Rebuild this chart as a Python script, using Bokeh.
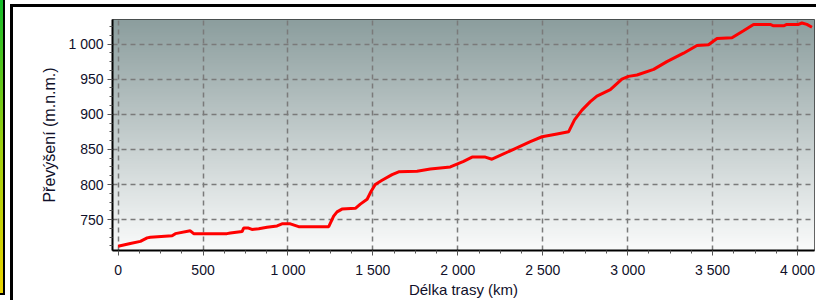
import numpy as np
from bokeh.plotting import figure
from bokeh.models import FixedTicker, Range1d
from bokeh.embed import file_html
from bokeh.resources import INLINE

# ---- data ----
distance_km = [0, 72, 131, 171, 190, 318, 337, 425, 445, 641, 661, 730, 739, 768, 788, 828,
               877, 936, 965, 1014, 1063, 1240, 1269, 1289, 1318, 1397, 1426, 1466, 1489,
               1514, 1554, 1613, 1652, 1760, 1838, 1956, 2034, 2084, 2162, 2201, 2309, 2427,
               2496, 2584, 2652, 2687, 2731, 2780, 2819, 2898, 2966, 3005, 3055, 3153, 3231,
               3329, 3408, 3476, 3526, 3614, 3682, 3741, 3839, 3859, 3918, 3937, 4006, 4026,
               4055, 4085]
elevation_m = [712, 716, 719, 724, 725, 727, 730, 734, 730, 730, 731, 733, 738, 738, 736, 737,
               739, 741, 744, 744, 740, 740, 755, 761, 765, 766, 772, 779, 790,
               800, 806, 814, 818, 819, 822, 825, 833, 839, 839, 836, 848, 861,
               868, 872, 875, 892, 906, 918, 926, 935, 950, 954, 956, 964, 975,
               987, 998, 999, 1008, 1009, 1019, 1028, 1028, 1026, 1026, 1028, 1028, 1030,
               1028, 1024]

x_ticks = [0, 500, 1000, 1500, 2000, 2500, 3000, 3500, 4000]
x_tick_labels = ["0", "500", "1 000", "1 500", "2 000", "2 500", "3 000", "3 500", "4 000"]
y_ticks = [750, 800, 850, 900, 950, 1000]
y_tick_labels = ["750", "800", "850", "900", "950", "1 000"]

x_title = "Délka trasy (km)"
y_title = "Převýšení (m.n.m.)"

x_start, x_end = -33, 4100
y_start, y_end = 706, 1035

p = figure(width=816, height=300, output_backend="svg", toolbar_location=None,
           x_range=Range1d(x_start, x_end), y_range=Range1d(y_start, y_end),
           min_border_left=112, min_border_right=2, min_border_top=19, min_border_bottom=49)
p.background_fill_color = "white"
p.border_fill_color = None
p.outline_line_color = "#333333"
p.outline_line_width = 1

# window frame decorations drawn behind the (transparent) canvas border
layers = [
    ("linear-gradient(#000,#000)", "10px 4px", "806px 3px"),
    ("linear-gradient(#000,#000)", "10px 4px", "3px 296px"),
    ("linear-gradient(#000,#000)", "3px 0px", "2px 295px"),
    ("linear-gradient(#000,#000)", "0px 293px", "5px 2px"),
    ("linear-gradient(to bottom,#14bb2a,#9fd010 50%,#ecd400)", "0px 0px", "3px 293px"),
]
p.styles = {
    "background-color": "white",
    "background-image": ",".join(l[0] for l in layers),
    "background-position": ",".join(l[1] for l in layers),
    "background-size": ",".join(l[2] for l in layers),
    "background-repeat": "no-repeat",
}

# gradient background of the plot area
n = 200
t = np.linspace(0, 1, n)[:, None]  # 0 = bottom, 1 = top
top_c = np.array([140, 158, 158])
bot_c = np.array([250, 251, 251])
cols = (bot_c + (top_c - bot_c) * t).astype(np.uint32)
img = np.zeros((n, 1), dtype=np.uint32)
view = img.view(dtype=np.uint8).reshape((n, 1, 4))
view[:, 0, 0] = cols[:, 0]
view[:, 0, 1] = cols[:, 1]
view[:, 0, 2] = cols[:, 2]
view[:, 0, 3] = 255
p.image_rgba(image=[img], x=x_start, y=y_start, dw=x_end - x_start, dh=y_end - y_start, level="image")

# grid
for g in (p.xgrid, p.ygrid):
    g.grid_line_color = "#7a7a7a"
    g.grid_line_dash = "5 4"
    g.grid_line_width = 1.5
    g.level = "underlay"
p.xgrid.ticker = FixedTicker(ticks=x_ticks)
p.ygrid.ticker = FixedTicker(ticks=y_ticks)

p.line(distance_km, elevation_m, line_color="#ff0000", line_width=3)

# axes
x_minor = [v for v in np.arange(0, 4101, 125).tolist() if v not in x_ticks]
y_minor = [v for v in np.arange(712.5, 1035, 12.5).tolist() if v not in y_ticks]
p.xaxis.ticker = FixedTicker(ticks=x_ticks, minor_ticks=x_minor)
p.yaxis.ticker = FixedTicker(ticks=y_ticks, minor_ticks=y_minor)
p.xaxis.major_label_overrides = dict(zip(x_ticks, x_tick_labels))
p.yaxis.major_label_overrides = dict(zip(y_ticks, y_tick_labels))
p.xaxis.axis_label = x_title
p.yaxis.axis_label = y_title
for ax in (p.xaxis, p.yaxis):
    ax.axis_line_color = "black"
    ax.axis_line_width = 2
    ax.major_tick_line_color = "#555555"
    ax.minor_tick_line_color = "#555555"
    ax.major_tick_out = 5
    ax.major_tick_in = 0
    ax.minor_tick_out = 3
    ax.minor_tick_in = 0
    ax.major_label_text_font = "Liberation Sans"
    ax.major_label_text_font_size = "14px"
    ax.major_label_text_color = "#10102a"
    ax.axis_label_text_font = "Liberation Sans"
    ax.axis_label_text_font_size = "16px"
    ax.axis_label_text_font_style = "normal"
    ax.axis_label_text_color = "#10102a"
p.xaxis.axis_label_text_font_size = "15px"
p.xaxis.major_label_standoff = 6
p.xaxis.axis_label_standoff = 0
p.yaxis.major_label_standoff = 4
p.yaxis.axis_label_standoff = 7

open("out.html", "w").write(file_html(p, INLINE))
